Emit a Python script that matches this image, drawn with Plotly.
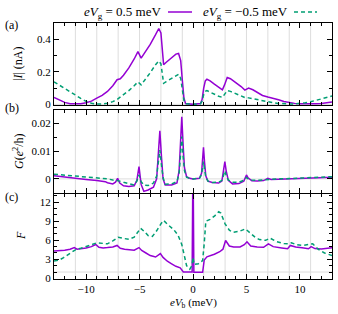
import plotly.graph_objects as go
from plotly.subplots import make_subplots

# ---------------- data ----------------
# Panel (a): |I| (nA)
xa = [-13, -12.5, -12, -11.5, -11, -10.5, -10, -9.5, -9, -8.5, -8, -7.5, -7.1, -6.8, -6.5, -6,
      -5.5, -5.15, -4.85, -4.5, -4, -3.5, -3.2, -3.0, -2.75, -2.5, -2, -1.6, -1.35, -1.15, -1.0,
      -0.85, -0.7, 0, 0.7, 0.85, 1.0, 1.15, 1.3, 1.6, 2, 2.4, 2.75, 2.95, 3.2, 3.5, 4, 4.5, 4.85,
      5.2, 5.6, 6, 6.5, 7, 7.5, 8, 8.5, 9, 9.5, 10, 10.5, 11, 11.5, 12, 12.5, 13]
Ia_pos = [0.043, 0.025, 0.012, 0.004, 0.002, 0.004, 0.010, 0.020, 0.038, 0.055, 0.080, 0.115,
          0.152, 0.158, 0.180, 0.225, 0.280, 0.325, 0.285, 0.320, 0.370, 0.430, 0.468, 0.440,
          0.245, 0.260, 0.290, 0.310, 0.314, 0.270, 0.150, 0.040, 0.005, 0.0, 0.005, 0.030,
          0.100, 0.145, 0.155, 0.145, 0.125, 0.105, 0.090, 0.120, 0.166, 0.158, 0.135, 0.110,
          0.088, 0.100, 0.090, 0.075, 0.055, 0.045, 0.038, 0.028, 0.018, 0.011, 0.006, 0.003,
          0.002, 0.002, 0.003, 0.006, 0.009, 0.014]
Ia_neg = [0.139, 0.118, 0.095, 0.075, 0.057, 0.037, 0.018, 0.007, 0.002, 0.002, 0.007, 0.017,
          0.030, 0.045, 0.055, 0.085, 0.115, 0.139, 0.120, 0.150, 0.195, 0.245, 0.268, 0.250,
          0.130, 0.140, 0.160, 0.180, 0.186, 0.160, 0.090, 0.025, 0.004, 0.0, 0.004, 0.020,
          0.060, 0.080, 0.085, 0.075, 0.062, 0.050, 0.043, 0.060, 0.085, 0.080, 0.065, 0.052,
          0.042, 0.040, 0.035, 0.028, 0.020, 0.015, 0.010, 0.006, 0.003, 0.002, 0.002, 0.005,
          0.010, 0.016, 0.024, 0.032, 0.041, 0.051]

# Panel (b): G (e^2/h)
xb = [-13, -12, -11, -10, -9, -8.2, -8, -7.5, -7.25, -7.05, -6.85, -6.5, -6, -5.5, -5.25, -5.05,
      -4.85, -4.6, -4.2, -3.7, -3.4, -3.25, -3.1, -2.95, -2.8, -2.6, -2.0, -1.5, -1.3, -1.18,
      -1.05, -0.92, -0.8, -0.6, -0.3, 0, 0.3, 0.6, 0.8, 0.9, 0.98, 1.08, 1.2, 1.4, 1.8, 2.4,
      2.7, 2.85, 2.98, 3.1, 3.3, 3.7, 4.3, 4.75, 4.9, 5.0, 5.15, 5.5, 6, 6.6, 7.0, 7.3, 8, 9,
      10, 11, 12, 13]
G_pos = [0.0011, 0.0006, 0.0002, -0.0002, -0.0006, -0.0010, -0.0014, -0.0018, -0.0012, 0.0002,
         -0.0015, -0.0025, -0.0027, -0.0025, -0.0005, 0.0044, -0.0020, -0.0045, -0.0040, -0.0030,
         0.0000, 0.0080, 0.0173, 0.0080, 0.0000, -0.0022, -0.0022, -0.0015, 0.0030, 0.0120,
         0.0224, 0.0120, 0.0040, 0.0008, 0.0002, 0.0, 0.0, 0.0002, 0.0020, 0.0060, 0.0114,
         0.0060, 0.0010, -0.0008, -0.0013, -0.0015, -0.0008, 0.0030, 0.0062, 0.0030, -0.0005,
         -0.0018, -0.0017, -0.0008, 0.0008, 0.0014, 0.0004, -0.0007, -0.0008, -0.0006, 0.0002,
         -0.0002, -0.0001, 0.0, 0.0001, 0.0002, 0.0004, 0.0006]
G_neg = [0.0017, 0.0014, 0.0011, 0.0008, 0.0004, 0.0001, 0.0, -0.0004, -0.0005, -0.0005,
         -0.0008, -0.0012, -0.0018, -0.0022, -0.0008, 0.0014, -0.0010, -0.0022, -0.0024, -0.0015,
         0.0010, 0.0055, 0.0104, 0.0050, 0.0005, -0.0019, -0.0018, -0.0010, 0.0020, 0.0080,
         0.0152, 0.0080, 0.0030, 0.0006, 0.0001, 0.0, 0.0, 0.0002, 0.0015, 0.0035, 0.0062,
         0.0035, 0.0005, -0.0008, -0.0013, -0.0012, -0.0005, 0.0012, 0.0029, 0.0012, -0.0004,
         -0.0012, -0.0012, -0.0005, 0.0002, 0.0005, 0.0, -0.0004, -0.0005, -0.0003, -0.0001,
         -0.0001, 0.0, 0.0001, 0.0003, 0.0005, 0.0007, 0.0008]

# Panel (c): Fano factor F
xc_pos = [-13, -12.5, -12, -11.5, -11.1, -10.85, -10.5, -10, -9.5, -9.1, -8.8, -8.4, -8, -7.5,
          -7.1, -6.8, -6.4, -6, -5.5, -5.05, -4.8, -4.4, -4, -3.5, -3.05, -2.8, -2.4, -2, -1.6,
          -1.2, -1.0, -0.9, -0.5, -0.08, 0, 0.08, 0.5, 0.9, 1.05, 1.3, 2, 2.5, 2.8, 3.05, 3.4,
          3.8, 4.4, 4.8, 5.05, 5.4, 6, 6.6, 7.05, 7.5, 8.3, 8.85, 9.1, 9.6, 10.2, 10.8, 11.05,
          11.4, 12, 12.5, 13]
F_pos = [4.30, 4.35, 4.45, 4.60, 4.85, 4.60, 4.65, 4.80, 5.00, 5.34, 4.90, 4.80, 4.85, 4.95,
         5.19, 4.75, 4.60, 4.50, 4.45, 4.85, 4.40, 4.00, 3.60, 3.37, 3.90, 3.30, 2.70, 2.30,
         1.90, 1.65, 1.30, 1.00, 1.00, 1.00, 20.0, 0.95, 0.95, 0.95, 2.90, 3.40, 3.80, 4.20,
         4.60, 5.97, 5.10, 4.95, 4.95, 5.30, 5.76, 5.10, 4.95, 4.90, 5.45, 5.00, 4.80, 4.67,
         5.19, 4.95, 4.83, 4.67, 5.00, 4.70, 4.62, 4.70, 4.83]
xc_neg = [-13, -12.5, -12.1, -11.5, -11, -10.5, -10, -9.5, -9, -8.5, -8, -7.5, -7, -6.5, -6,
          -5.5, -5.2, -4.9, -4.5, -4.2, -3.8, -3.4, -3.0, -2.75, -2.3, -1.8, -1.4, -1.05, -0.8,
          -0.6, -0.3, -0.1, 0, 0.1, 0.5, 0.9, 1.05, 1.2, 1.6, 2.0, 2.4, 2.6, 3.0, 3.4, 3.7, 4.3,
          4.9, 5.3, 5.8, 6.2, 6.8, 7.2, 7.8, 8.5, 8.9, 9.2, 9.7, 10.3, 10.9, 11.2, 11.7, 12.3, 13]
F_neg = [2.74, 2.90, 3.27, 4.00, 4.50, 4.75, 4.98, 5.30, 5.60, 5.55, 5.45, 5.90, 6.48, 6.30,
         6.15, 6.50, 7.30, 7.90, 7.30, 6.74, 6.60, 7.50, 8.60, 9.13, 8.40, 7.68, 6.80, 5.34,
         3.50, 2.00, 1.45, 2.00, 3.30, 2.20, 2.30, 2.80, 5.50, 9.00, 9.30, 9.80, 10.50, 10.30,
         8.60, 7.60, 7.26, 7.40, 7.80, 7.26, 6.50, 6.12, 6.00, 6.35, 5.80, 5.50, 5.45, 5.60,
         5.30, 5.20, 5.30, 5.45, 4.60, 4.00, 3.60]

x_tickvals = [-10, -5, 0, 5, 10]
x_ticktext = ["\u221210", "\u22125", "0", "5", "10"]
grid_x = [-11, -9, -7, -5, -3, -1, 1, 3, 5, 7, 9, 11]

# ---------------- style ----------------
PURPLE = "#9400d3"
GREEN = "#009e73"
FONT = "Liberation Serif, 'Times New Roman', 'DejaVu Serif', serif"
FS = 12
TFS = 11
LFS = 13

fig = make_subplots(rows=3, cols=1, shared_xaxes=True)

def add_pair(row, xp, yp, xn, yn):
    fig.add_trace(go.Scatter(x=xp, y=yp, mode="lines", showlegend=False, hoverinfo="skip",
                             line=dict(color=PURPLE, width=1.5)), row=row, col=1)
    fig.add_trace(go.Scatter(x=xn, y=yn, mode="lines", showlegend=False, hoverinfo="skip",
                             line=dict(color=GREEN, width=1.5, dash="4px,3px")), row=row, col=1)

add_pair(1, xa, Ia_pos, xa, Ia_neg)
add_pair(2, xb, G_pos, xb, G_neg)
add_pair(3, xc_pos, F_pos, xc_neg, F_neg)

for v in grid_x:
    fig.add_vline(x=v, line=dict(color="#dddddd", width=1), layer="below", row="all", col=1)
fig.add_hline(y=0, line=dict(color="#dddddd", width=1), layer="below", row=1, col=1)
fig.add_hline(y=0, line=dict(color="#dddddd", width=1), layer="below", row=2, col=1)
fig.add_hline(y=1, line=dict(color="#dddddd", width=1), layer="below", row=3, col=1)

axis_common = dict(showline=True, linecolor="black", linewidth=1, mirror="allticks",
                   ticks="inside", ticklen=5, tickcolor="black", showgrid=False,
                   zeroline=False, tickfont=dict(family=FONT, size=TFS, color="black"))

W, H = 338, 314
L, R, T, B = 54, 6, 23, 35
pw, ph = W - L - R, H - T - B

def px(x):
    return (x - L) / pw

def py(y):
    return (H - B - y) / ph

# panel borders in pixels (top, bottom)
panels_px = [(23, 105), (110, 192.5), (194, H - B)]
doms = [[py(b), py(t)] for t, b in panels_px]
doms[0][1] = 1.0
doms[2][0] = 0.0

for i in range(3):
    xk = "xaxis" if i == 0 else f"xaxis{i+1}"
    yk = "yaxis" if i == 0 else f"yaxis{i+1}"
    fig.layout[xk].update(range=[-13, 13], tickvals=x_tickvals, ticktext=x_ticktext,
                          showticklabels=(i == 2),
                          minor=dict(dtick=1, tick0=0, ticks="inside", ticklen=3,
                                     tickcolor="black"),
                          **axis_common)
    fig.layout[yk].update(domain=doms[i], **axis_common)

fig.layout.yaxis.update(range=[-0.004, 0.502], tickvals=[0, 0.2, 0.4],
                        ticktext=["0", "0.2", "0.4"],
                        minor=dict(dtick=0.1, tick0=0, ticks="inside", ticklen=3, tickcolor="black"))
fig.layout.yaxis2.update(range=[-0.0049, 0.0248], tickvals=[0, 0.01, 0.02],
                         ticktext=["0", "0.01", "0.02"],
                         minor=dict(dtick=0.005, tick0=0, ticks="inside", ticklen=3, tickcolor="black"))
fig.layout.yaxis3.update(range=[-0.1, 13.3], tickvals=[0, 3, 6, 9, 12],
                         ticktext=["0", "3", "6", "9", "12"],
                         minor=dict(dtick=1, tick0=0, ticks="inside", ticklen=3, tickcolor="black"))

ann_font = dict(family=FONT, size=FS, color="black")
leg_font = dict(family=FONT, size=LFS, color="black")
annotations = [
    dict(text="(a)", x=px(3), y=py(25), xanchor="left", yanchor="middle", font=ann_font),
    dict(text="(b)", x=px(3), y=py(108), xanchor="left", yanchor="middle", font=ann_font),
    dict(text="(c)", x=px(3), y=py(197), xanchor="left", yanchor="middle", font=ann_font),
    dict(text="|<i>I</i>| (nA)", x=px(18), y=py(64), textangle=-90, xanchor="center",
         yanchor="middle", font=ann_font),
    dict(text="<i>G</i>(<i>e</i><sup>2</sup>/h)", x=px(18), y=py(151), textangle=-90,
         xanchor="center", yanchor="middle", font=ann_font),
    dict(text="<i>F</i>", x=px(21), y=py(236), textangle=-90, xanchor="center", yanchor="middle",
         font=ann_font),
    dict(text="<i>eV</i><sub>b</sub> (meV)", x=px(193), y=py(303), xanchor="center",
         yanchor="middle", font=dict(family=FONT, size=TFS, color="black")),
    dict(text="<i>eV</i><sub>g</sub> = 0.5 meV", x=px(163), y=py(12), xanchor="right",
         yanchor="middle", font=leg_font),
    dict(text="<i>eV</i><sub>g</sub> = \u22120.5 meV", x=px(290), y=py(12), xanchor="right",
         yanchor="middle", font=leg_font),
]
for a in annotations:
    a.update(xref="paper", yref="paper", showarrow=False)

shapes = list(fig.layout.shapes) + [
    dict(type="line", xref="paper", yref="paper", x0=px(168), x1=px(192), y0=py(12), y1=py(12),
         line=dict(color=PURPLE, width=1.5)),
    dict(type="line", xref="paper", yref="paper", x0=px(294), x1=px(317), y0=py(12), y1=py(12),
         line=dict(color=GREEN, width=1.5, dash="4px,3px")),
]

fig.update_layout(width=W, height=H, margin=dict(l=L, r=R, t=T, b=B),
                  paper_bgcolor="white", plot_bgcolor="white",
                  font=dict(family=FONT, size=FS, color="black"),
                  annotations=annotations, shapes=shapes, showlegend=False,
                  hovermode=False)

fig.write_html("out.html", config={"displayModeBar": False, "staticPlot": True},
               post_script="document.body.style.margin='0';")
